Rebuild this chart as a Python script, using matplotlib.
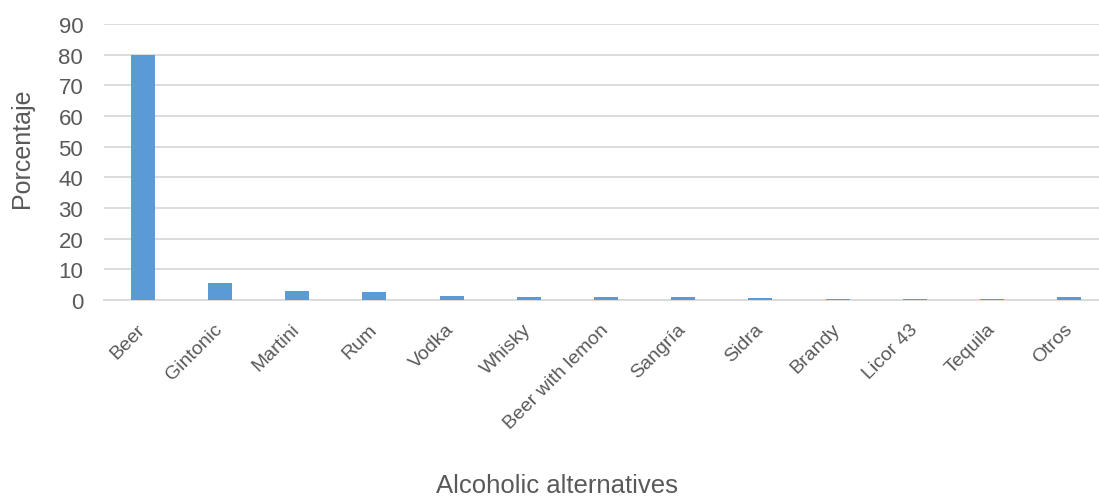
import matplotlib
matplotlib.use('Agg')
import matplotlib.pyplot as plt
import numpy as np

plt.rcParams['font.family'] = ['Liberation Sans', 'DejaVu Sans']

## Data
categories = ['Beer', 'Gintonic', 'Martini', 'Rum', 'Vodka', 'Whisky',
              'Beer with lemon', 'Sangría', 'Sidra', 'Brandy', 'Licor 43',
              'Tequila', 'Otros']
values = [80, 5.7, 2.9, 2.5, 1.4, 0.9, 0.9, 0.9, 0.6, 0.2, 0.2, 0.2, 0.9]
yticks = [0, 10, 20, 30, 40, 50, 60, 70, 80, 90]

text_col = '#595959'
grid_col = '#D9D9D9'
bar_col = '#5B9BD5'

## Plotting
fig = plt.figure(figsize=(10.99, 5.02), dpi=100)
ax = fig.add_axes([104/1099, 1 - 301/502, (1108 - 104)/1099, 276/502])

x = np.arange(len(categories))
ax.bar(x, values, width=0.31, color=bar_col, zorder=3)

ax.set_xlim(-0.5, len(categories) - 0.5)
ax.set_ylim(0, 90)
ax.set_yticks(yticks)
ax.set_xticks(x)
ax.set_xticklabels(categories, rotation=45, ha='right', va='center',
                   rotation_mode='anchor')
ax.tick_params(axis='both', length=0, labelcolor=text_col)
ax.tick_params(axis='x', pad=19, labelsize=14)
ax.tick_params(axis='y', pad=15, labelsize=16)

ax.yaxis.grid(True, color=grid_col, linewidth=1.3, zorder=0)
for s in ['top', 'right', 'left']:
    ax.spines[s].set_visible(False)
ax.spines['bottom'].set_color(grid_col)
ax.spines['bottom'].set_linewidth(1.3)

fig.text(22/1099, 1 - 148/502, 'Porcentaje', fontsize=18, color=text_col,
         rotation=90, ha='center', va='center')
fig.text(557/1099, 1 - 486/502, 'Alcoholic alternatives', fontsize=18.5,
         color=text_col, ha='center', va='center')

fig.savefig('out.png', dpi=100)
